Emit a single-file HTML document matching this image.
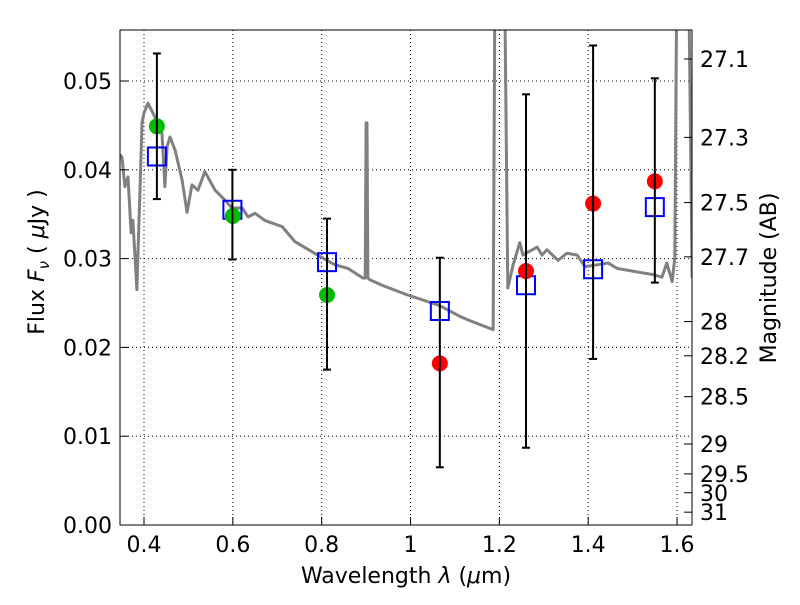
<!DOCTYPE html>
<html><head><meta charset="utf-8"><style>
body{margin:0;background:#fff;}
svg text{font-family:"DejaVu Sans","Liberation Sans",sans-serif;fill:#000;}
</style></head><body>
<svg id="chart" width="800" height="600" viewBox="0 0 800 600">
<defs><clipPath id="clip"><rect x="120" y="30" width="572" height="495"/></clipPath></defs>
<g id="grid"></g>
<g id="spec" clip-path="url(#clip)"></g>
<g id="marks" clip-path="url(#clip)"></g>
<rect x="120" y="30" width="572" height="495" fill="none" stroke="#000" stroke-width="1"/>
<g id="axes"></g>
<text x="406" y="583" font-size="22" text-anchor="middle">Wavelength  <tspan font-style="italic">λ</tspan> (<tspan font-style="italic">μ</tspan>m)</text>
<text transform="translate(44,262) rotate(-90)" font-size="22" text-anchor="middle">Flux  <tspan font-style="italic">F</tspan><tspan font-style="italic" font-size="15" dy="5">ν</tspan><tspan dy="-5">  ( </tspan><tspan font-style="italic">μ</tspan>Jy )</text>
<text transform="translate(776,278) rotate(-90)" font-size="22" text-anchor="middle">Magnitude (AB)</text>
</svg>
<script>
const xTicks=[0.4,0.6,0.8,1.0,1.2,1.4,1.6];
const xTickLabels=["0.4","0.6","0.8","1","1.2","1.4","1.6"];
const yTicks=[0,0.01,0.02,0.03,0.04,0.05];
const yTickLabels=["0.00","0.01","0.02","0.03","0.04","0.05"];
const magTicks=[27.1,27.3,27.5,27.7,28,28.2,28.5,29,29.5,30,31];
const magTickLabels=["27.1","27.3","27.5","27.7","28","28.2","28.5","29","29.5","30","31"];
const specLam=[0.346,0.3505,0.357,0.364,0.371,0.375,0.384,0.386,0.391,0.3955,0.400,0.409,0.425,0.4405,0.447,0.452,0.4585,0.470,0.4855,0.497,0.508,0.5215,0.537,0.560,0.582,0.598,0.621,0.634,0.650,0.672,0.711,0.740,0.801,0.830,0.859,0.893,0.898,0.900,0.902,0.904,0.909,0.936,0.988,1.066,1.111,1.134,1.186,1.192,1.208,1.219,1.231,1.246,1.253,1.285,1.296,1.307,1.332,1.352,1.375,1.393,1.420,1.445,1.465,1.510,1.546,1.566,1.577,1.589,1.595,1.602,1.622,1.634];
const specFlux=[0.0417,0.0414,0.0381,0.0392,0.0329,0.0343,0.0265,0.0300,0.0377,0.0453,0.0464,0.0475,0.0459,0.0441,0.0381,0.0426,0.0437,0.0422,0.0389,0.0352,0.0383,0.0377,0.0398,0.0377,0.0366,0.0357,0.0357,0.0347,0.0351,0.0343,0.0336,0.0319,0.0301,0.0293,0.0289,0.0278,0.0278,0.0453,0.0453,0.0278,0.0276,0.0270,0.0260,0.0247,0.0235,0.0230,0.0220,0.08,0.08,0.0267,0.0293,0.0318,0.0304,0.0313,0.0304,0.0310,0.0298,0.0306,0.0304,0.0291,0.0293,0.0295,0.0289,0.0285,0.0282,0.0279,0.0295,0.0274,0.0301,0.08,0.08,0.0278];
const greenLam=[0.429,0.600,0.812];
const greenFlux=[0.0449,0.0348,0.0259];
const redLam=[1.066,1.26,1.411,1.550];
const redFlux=[0.0182,0.0286,0.0362,0.0387];
const modelLam=[0.429,0.599,0.812,1.066,1.26,1.411,1.550];
const modelFlux=[0.0415,0.0355,0.0296,0.0241,0.0270,0.0288,0.0358];
const errLam=[0.429,0.599,0.812,1.066,1.26,1.411,1.550];
const errLow=[0.0367,0.0299,0.0175,0.0065,0.0087,0.0187,0.0273];
const errHigh=[0.0531,0.0400,0.0345,0.0301,0.0485,0.0540,0.0503];

const X=l=>144+(l-0.4)*444.2;
const Y=f=>525-f*8880;
const NS="http://www.w3.org/2000/svg";
function mk(tag,parent,attrs){const e=document.createElementNS(NS,tag);for(const k in attrs)e.setAttribute(k,attrs[k]);parent.appendChild(e);return e;}
const grid=document.getElementById('grid'),axes=document.getElementById('axes'),spec=document.getElementById('spec'),marks=document.getElementById('marks');

xTicks.forEach((t,i)=>{
  const g=mk('line',grid,{x1:X(t),x2:X(t),y1:30,y2:525,stroke:'#000','stroke-dasharray':'1,3','stroke-width':1});
  
  
  const tk=mk('line',axes,{x1:X(t),x2:X(t),y1:525,y2:517,stroke:'#000'});
  
  
  const tx=mk('text',axes,{x:X(t),y:552,'font-size':22,'text-anchor':'middle'});tx.textContent=xTickLabels[i];
  
  
});
yTicks.forEach((t,i)=>{
  if(t>0){const g=mk('line',grid,{x1:120,x2:692,y1:Y(t),y2:Y(t),stroke:'#000','stroke-dasharray':'1,3','stroke-width':1});
  
  }
  const tk=mk('line',axes,{x1:120,x2:128,y1:Y(t),y2:Y(t),stroke:'#000'});
  
  
  const tx=mk('text',axes,{x:112,y:Y(t)+8,'font-size':22,'text-anchor':'end'});tx.textContent=yTickLabels[i];
  
  
});
magTicks.forEach((m,i)=>{
  const f=Math.pow(10,(23.9-m)/2.5);
  const tk=mk('line',axes,{x1:684,x2:692,y1:Y(f),y2:Y(f),stroke:'#000'});
  
  
  const tx=mk('text',axes,{x:700,y:Y(f)+8,'font-size':22});tx.textContent=magTickLabels[i];
  
  
});
const sp=mk('polyline',spec,{points:specLam.map((l,i)=>X(l)+','+Y(specFlux[i])).join(' '),fill:'none',stroke:'#808080','stroke-width':3,'stroke-linejoin':'round'});


modelLam.forEach((l,i)=>{
  const r=mk('rect',marks,{x:X(l)-9,y:Y(modelFlux[i])-9,width:18,height:18,fill:'none',stroke:'#0000ff','stroke-width':2});
  
  
});
greenLam.forEach((l,i)=>{
  const c=mk('circle',marks,{cx:X(l),cy:Y(greenFlux[i]),r:8,fill:'#00bb00'});
  
  
});
redLam.forEach((l,i)=>{
  const c=mk('circle',marks,{cx:X(l),cy:Y(redFlux[i]),r:8,fill:'#ff0000'});
  
  
});
errLam.forEach((l,i)=>{
  const x=X(l),y1=Y(errLow[i]),y2=Y(errHigh[i]);
  const g=mk('g',marks,{stroke:'#000','stroke-width':2});
  
  
  mk('line',g,{x1:x,x2:x,y1:y1,y2:y2});
  mk('line',g,{x1:x-4,x2:x+4,y1:y1,y2:y1});
  mk('line',g,{x1:x-4,x2:x+4,y1:y2,y2:y2});
});
</script>
</body></html>
